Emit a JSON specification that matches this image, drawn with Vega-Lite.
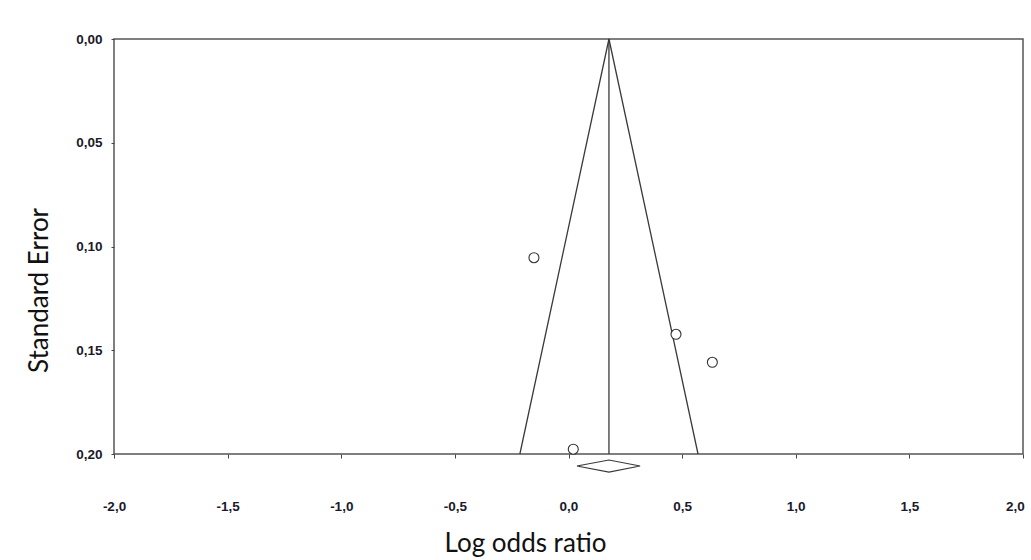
{
  "$schema": "https://vega.github.io/schema/vega-lite/v6.json",
  "width": 909,
  "height": 415,
  "autosize": {"type": "none"},
  "padding": {"left": 114, "top": 39, "right": 8, "bottom": 106},
  "background": "white",
  "config": {
    "view": {"stroke": "#555555", "strokeWidth": 1.5},
    "axis": {"grid": false, "domain": false, "tickColor": "#444444", "labelFont": "Liberation Sans", "labelFontWeight": "bold", "labelFontSize": 13.5, "labelColor": "#1a1a2a", "titleFont": "Lato", "titleFontWeight": "normal", "titleFontSize": 26, "titleColor": "#111111", "labelFlush": false, "labelOverlap": false}
  },
  "datasets": {
    "studies": [
      {"lor": -0.152, "se": 0.1054},
      {"lor": 0.473, "se": 0.1423},
      {"lor": 0.633, "se": 0.1558},
      {"lor": 0.021, "se": 0.1977}
    ],
    "funnel": [
      {"lor": -0.214, "se": 0.2, "k": 1},
      {"lor": 0.178, "se": 0.0, "k": 2},
      {"lor": 0.570, "se": 0.2, "k": 3}
    ],
    "center": [
      {"lor": 0.178, "se": 0.0, "se2": 0.2}
    ],
    "diamond": [
      {"lor": 0.037, "se": 0.2058, "k": 1},
      {"lor": 0.178, "se": 0.2029, "k": 2},
      {"lor": 0.315, "se": 0.2058, "k": 3},
      {"lor": 0.178, "se": 0.2087, "k": 4},
      {"lor": 0.037, "se": 0.2058, "k": 5}
    ]
  },
  "encoding": {
    "x": {
      "field": "lor", "type": "quantitative",
      "scale": {"domain": [-2, 2], "nice": false, "zero": false},
      "axis": {
        "title": "Log odds ratio",
        "values": [-2, -1.5, -1, -0.5, 0, 0.5, 1, 1.5, 2],
        "labelExpr": "replace(replace(format(datum.value, '.1f'), '.', ','), '\u2212', '-')",
        "labelOffset": {"condition": {"test": "datum.value == 2", "value": -8}, "value": 0},
        "tickSize": 4, "labelPadding": 41,
        "titleX": 411, "titleY": 97, "titleBaseline": "alphabetic", "titleAnchor": "middle", "titleAlign": "center"
      }
    },
    "y": {
      "field": "se", "type": "quantitative",
      "scale": {"domain": [0, 0.2], "nice": false, "zero": false, "reverse": true},
      "axis": {
        "title": "Standard Error",
        "values": [0, 0.05, 0.1, 0.15, 0.2],
        "labelExpr": "replace(format(datum.value, '.2f'), '.', ',')",
        "tickSize": 3, "labelPadding": 9,
        "titleAngle": -90, "titleX": -67, "titleY": 251, "titleBaseline": "alphabetic", "titleAlign": "center"
      }
    }
  },
  "layer": [
    {
      "data": {"name": "funnel"},
      "mark": {"type": "line", "color": "#3a3a3a", "strokeWidth": 1.3},
      "encoding": {"order": {"field": "k"}}
    },
    {
      "data": {"name": "center"},
      "mark": {"type": "rule", "color": "#3a3a3a", "strokeWidth": 1.3},
      "encoding": {"y2": {"field": "se2"}}
    },
    {
      "data": {"name": "diamond"},
      "mark": {"type": "line", "color": "#3a3a3a", "strokeWidth": 1.2, "clip": false},
      "encoding": {"order": {"field": "k"}}
    },
    {
      "data": {"name": "studies"},
      "mark": {"type": "point", "shape": "circle", "size": 100, "filled": false, "fill": "white", "fillOpacity": 1, "stroke": "#333333", "strokeWidth": 1.1, "opacity": 1}
    }
  ]
}
